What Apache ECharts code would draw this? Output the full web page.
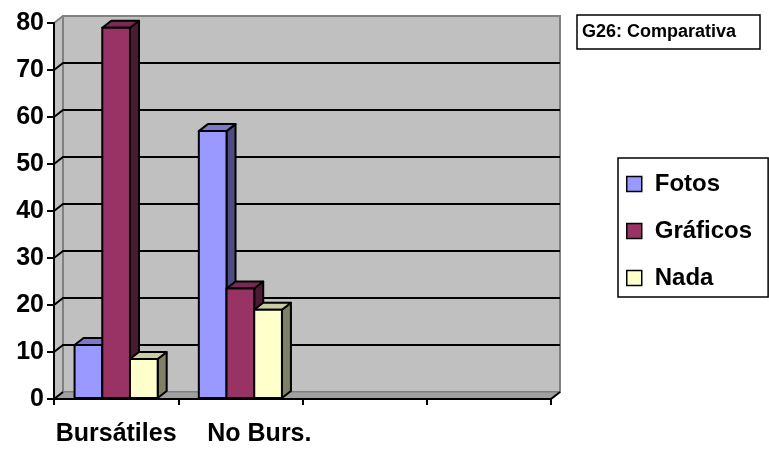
<!DOCTYPE html>
<html>
<head>
<meta charset="utf-8">
<script src="https://cdn.jsdelivr.net/npm/echarts@6/dist/echarts.min.js"></script>
<style>
  html, body { margin: 0; padding: 0; background: #ffffff; }
  #chart { width: 769px; height: 449px; }
</style>
</head>
<body>
<div id="chart"></div>
<script>
// Categories on the horizontal axis (two empty slots keep the floor long)
const categories = ['Bursátiles', 'No Burs.', '', ''];

// Percentages per category
const fotos    = [11.5, 57];
const graficos = [79, 23.5];
const nada     = [8.5, 19];

// Value axis
const yMin = 0, yMax = 80, yStep = 10;

const seriesNames = ['Fotos', 'Gráficos', 'Nada'];
const seriesValues = [fotos, graficos, nada];

// Face colours for the pseudo-3D columns: front, top, side
const palette = [
  { front: '#9999FF', top: '#7A7ACC', side: '#4D4D80' },
  { front: '#993366', top: '#7A2952', side: '#4D1A33' },
  { front: '#FFFFCC', top: '#CCCCA3', side: '#808066' }
];

// Oblique depth of the plot box and of the columns
const DX = 9, DY = 7;
const FONT = '"Liberation Sans", Arial, sans-serif';

function renderWalls(params, api) {
  const cs = params.coordSys;
  const L = cs.x, R = cs.x + cs.width, T = cs.y, B = cs.y + cs.height;
  const children = [];
  // left side wall
  children.push({ type: 'polygon', shape: { points: [[L, T], [L + DX, T - DY], [L + DX, B - DY], [L, B]] },
    style: { fill: '#C0C0C0', stroke: '#808080', lineWidth: 1 } });
  // back wall
  children.push({ type: 'rect', shape: { x: L + DX, y: T - DY, width: cs.width, height: cs.height },
    style: { fill: '#C0C0C0', stroke: '#808080', lineWidth: 2 } });
  // floor
  children.push({ type: 'polygon', shape: { points: [[L, B], [R, B], [R + DX, B - DY], [L + DX, B - DY]] },
    style: { fill: '#A0A0A0', stroke: '#808080', lineWidth: 1 } });
  // gridlines running along the side wall and across the back wall
  for (let v = yMin; v <= yMax; v += yStep) {
    const y = api.coord([0, v])[1];
    if (v > yMin && v < yMax) {
      children.push({ type: 'polyline', shape: { points: [[L, y], [L + DX, y - DY], [R + DX, y - DY]] },
        style: { stroke: '#000', lineWidth: 2, fill: null } });
    } else {
      children.push({ type: 'line', shape: { x1: L, y1: y, x2: L + DX, y2: y - DY },
        style: { stroke: v === yMin ? '#000' : '#808080', lineWidth: 2 } });
    }
  }
  // front-right corner of the floor
  children.push({ type: 'line', shape: { x1: R, y1: B, x2: R + DX, y2: B - DY },
    style: { stroke: '#000', lineWidth: 2 } });
  return { type: 'group', children: children };
}

function barRenderer(slot) {
  const col = palette[slot];
  return function (params, api) {
    const c = api.value(0), v = api.value(1);
    const p0 = api.coord([c, 0]);
    const p1 = api.coord([c, v]);
    const band = api.size([1, 0])[0];
    const w = band * 0.223;
    const x0 = p0[0] + (slot - 1.5) * w;
    const x1 = x0 + w;
    const yb = p0[1] - 1, yt = p1[1];
    const edge = { stroke: '#000', lineWidth: 2, lineJoin: 'round' };
    return {
      type: 'group',
      children: [
        { type: 'polygon', shape: { points: [[x1, yt], [x1 + DX, yt - DY], [x1 + DX, yb - DY], [x1, yb]] },
          style: Object.assign({ fill: col.side }, edge) },
        { type: 'polygon', shape: { points: [[x0, yt], [x1, yt], [x1 + DX, yt - DY], [x0 + DX, yt - DY]] },
          style: Object.assign({ fill: col.top }, edge) },
        { type: 'rect', shape: { x: x0, y: yt, width: w, height: yb - yt },
          style: Object.assign({ fill: col.front }, edge) }
      ]
    };
  };
}

const series = [{
  name: 'walls',
  type: 'custom',
  z: 1,
  silent: true,
  renderItem: renderWalls,
  data: [[0, 0]]
}];
seriesNames.forEach(function (name, i) {
  series.push({
    name: name,
    type: 'custom',
    z: 2 + i,
    itemStyle: { color: palette[i].front },
    renderItem: barRenderer(i),
    data: seriesValues[i].map(function (v, k) { return [k, v]; })
  });
});

const chart = echarts.init(document.getElementById('chart'), null, { renderer: 'canvas' });
chart.setOption({
  animation: false,
  backgroundColor: '#ffffff',
  title: {
    text: 'G26: Comparativa',
    left: 577, top: 15,
    padding: [7, 24, 7, 5],
    borderColor: '#000', borderWidth: 1.5,
    textStyle: { fontFamily: FONT, fontWeight: 'bold', fontSize: 18, color: '#000', lineHeight: 20 }
  },
  legend: {
    orient: 'vertical',
    left: 618, top: 158,
    padding: [13, 16, 6, 8],
    backgroundColor: '#ffffff',
    borderColor: '#000', borderWidth: 1.5,
    itemWidth: 15, itemHeight: 15, itemGap: 21,
    icon: 'rect',
    selectedMode: false,
    textStyle: { fontFamily: FONT, fontWeight: 'bold', fontSize: 24, color: '#000', lineHeight: 26, padding: [0, 0, 0, 8] },
    data: seriesNames.map(function (n, i) {
      return { name: n, itemStyle: { color: palette[i].front, borderColor: '#000', borderWidth: 1.5 } };
    })
  },
  grid: { left: 54, right: 218, top: 23, bottom: 50 },
  xAxis: {
    type: 'category',
    data: categories,
    z: 5,
    axisLine: { lineStyle: { color: '#000', width: 2 } },
    axisTick: { show: true, length: 6, lineStyle: { color: '#000', width: 2 } },
    axisLabel: {
      margin: 23,
      interval: 0,
      color: '#000',
      fontFamily: FONT, fontWeight: 'bold', fontSize: 25,
      formatter: function (v, i) { return i === 1 ? '{s|' + v + '}' : v; },
      rich: { s: { fontFamily: FONT, fontWeight: 'bold', fontSize: 25, color: '#000', padding: [0, 0, 0, 38] } }
    },
    splitLine: { show: false }
  },
  yAxis: {
    type: 'value',
    min: yMin, max: yMax, interval: yStep,
    z: 5,
    axisLine: { show: true, lineStyle: { color: '#000', width: 2 } },
    axisTick: { show: true, length: 7, lineStyle: { color: '#000', width: 2 } },
    axisLabel: { margin: 10, color: '#000', fontFamily: FONT, fontWeight: 'bold', fontSize: 25 },
    splitLine: { show: false }
  },
  series: series
});
</script>
</body>
</html>
